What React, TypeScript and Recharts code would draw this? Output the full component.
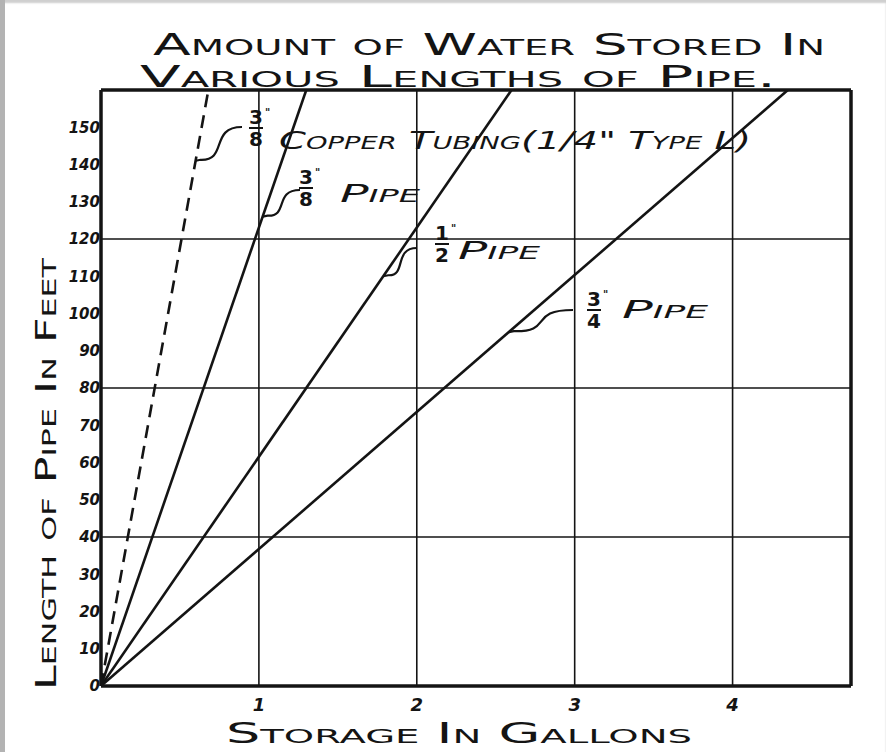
import { LineChart, Line, XAxis, YAxis, ReferenceLine } from 'recharts';

// values (gallons held by 160 ft of each pipe)
const pipeNames = ['3/8" Copper Tubing (1/4" Type L)', '3/8" Pipe', '1/2" Pipe', '3/4" Pipe'];
const gallonsAt160 = [0.68, 1.3, 2.6, 4.35];
const pipeDashed = [true, false, false, false];
const lengthTicks = [0, 10, 20, 30, 40, 50, 60, 70, 80, 90, 100, 110, 120, 130, 140, 150];
const gallonTicks = [1, 2, 3, 4];
const gridLengths = [40, 80, 120];
const maxLength = 160;
const maxGallons = 4.75;

// layout
const W = 886;
const H = 752;
const M = { top: 90, right: 35, bottom: 36, left: 61 };
const Y_W = 40;
const X_H = 30;
const plotL = M.left + Y_W;
const plotR = W - M.right;
const plotT = M.top;
const plotB = H - M.bottom - X_H;
const px = (g: number) => plotL + (g / maxGallons) * (plotR - plotL);
const py = (f: number) => plotB - (f / maxLength) * (plotB - plotT);

const ink = '#141414';
const hand = "'DejaVu Sans', sans-serif";

const series = gallonsAt160.map((g) => [
  { gallons: 0, feet: 0 },
  { gallons: g, feet: maxLength },
]);

// where each label sits and where its leader touches the line (feet on the line)
const labelSpots = [
  { touch: 141, fx: 256, fy: 110, tx: 279, ty: 149, tw: 472, ex: 242, ey: 127, text: 'Copper Tubing(1/4" Type L)' },
  { touch: 126, fx: 306, fy: 170, tx: 340, ty: 202, tw: 80, ex: 300, ey: 190, text: 'Pipe' },
  { touch: 110, fx: 442, fy: 226, tx: 458, ty: 259, tw: 82, ex: 417, ey: 248, text: 'Pipe' },
  { touch: 95, fx: 594, fy: 292, tx: 622, ty: 318, tw: 86, ex: 573, ey: 310, text: 'Pipe' },
];

const Fraction = ({ x, y, num, den }: { x: number; y: number; num: string; den: string }) => (
  <g fill={ink} fontFamily={hand} fontWeight={700} fontSize={20}>
    <text x={x} y={y + 14} textAnchor="middle">{num}</text>
    <text x={x + 9} y={y + 6} fontSize={10}>"</text>
    <line x1={x - 7} x2={x + 7} y1={y + 18} y2={y + 18} stroke={ink} strokeWidth={2} />
    <text x={x} y={y + 36} textAnchor="middle">{den}</text>
  </g>
);

const Overlay = () => (
  <svg width={W} height={H} style={{ position: 'absolute', left: 0, top: 0, pointerEvents: 'none' }}>
    <g fill={ink} fontFamily={hand} style={{ fontVariant: 'small-caps' }}>
      <text x={153} y={55} fontSize={30} textLength={672} lengthAdjust="spacingAndGlyphs">
        Amount of Water Stored In
      </text>
      <text x={140} y={87} fontSize={30} textLength={636} lengthAdjust="spacingAndGlyphs">
        Various Lengths of Pipe.
      </text>
      <text x={226} y={743} fontSize={28} textLength={466} lengthAdjust="spacingAndGlyphs">
        Storage In Gallons
      </text>
      <text
        transform="translate(56,690) rotate(-90)"
        x={0}
        y={0}
        fontSize={28}
        textLength={432}
        lengthAdjust="spacingAndGlyphs"
      >
        Length of Pipe In Feet
      </text>
    </g>
    {labelSpots.map((s, i) => {
      const sx = px((gallonsAt160[i] * s.touch) / maxLength);
      const sy = py(s.touch);
      const [num, den] = pipeNames[i].split('"')[0].split('/');
      const d = `M ${sx} ${sy} l 5 -1 C ${sx + (s.ex - sx) * 0.7} ${sy}, ${sx + (s.ex - sx) * 0.3} ${s.ey}, ${s.ex} ${s.ey}`;
      return (
        <g key={pipeNames[i]}>
          <path d={d} fill="none" stroke={ink} strokeWidth={2.2} />
          <Fraction x={s.fx} y={s.fy} num={num} den={den} />
          <text
            x={s.tx}
            y={s.ty}
            fill={ink}
            fontFamily={hand}
            fontSize={24}
            fontStyle="italic"
            textLength={s.tw}
            lengthAdjust="spacingAndGlyphs"
            style={{ fontVariant: 'small-caps' }}
          >
            {s.text}
          </text>
        </g>
      );
    })}
  </svg>
);

export default function App() {
  return (
    <div
      style={{
        position: 'absolute',
        left: 0,
        top: 0,
        width: W,
        height: H,
        background: '#fff',
        boxShadow: 'inset 5px 0 0 #b3b3b3, inset 0 3px 2px #cfcfcf',
      }}
    >
      <LineChart width={W} height={H} margin={M}>
        <XAxis
          type="number"
          dataKey="gallons"
          domain={[0, maxGallons]}
          ticks={gallonTicks}
          allowDataOverflow
          height={X_H}
          tickLine={false}
          tickSize={0}
          tickMargin={12}
          axisLine={{ stroke: ink, strokeWidth: 3.5 }}
          tick={{ fill: ink, fontSize: 18, fontStyle: 'italic', fontWeight: 700, fontFamily: hand }}
        />
        <YAxis
          type="number"
          dataKey="feet"
          domain={[0, maxLength]}
          ticks={lengthTicks}
          allowDataOverflow
          width={Y_W}
          tickLine={false}
          tickSize={0}
          tickMargin={1}
          interval={0}
          axisLine={{ stroke: ink, strokeWidth: 3.5 }}
          tick={{ fill: ink, fontSize: 15, fontStyle: 'italic', fontWeight: 700, fontFamily: hand }}
        />
        {gallonTicks.map((g) => (
          <ReferenceLine key={'x' + g} x={g} stroke={ink} strokeWidth={1.6} />
        ))}
        {gridLengths.map((f) => (
          <ReferenceLine key={'y' + f} y={f} stroke={ink} strokeWidth={1.6} />
        ))}
        <ReferenceLine y={maxLength} stroke={ink} strokeWidth={3.5} />
        <ReferenceLine x={maxGallons} stroke={ink} strokeWidth={3.5} />
        {series.map((d, i) => (
          <Line
            key={pipeNames[i]}
            name={pipeNames[i]}
            data={d}
            dataKey="feet"
            type="linear"
            stroke={ink}
            strokeWidth={2.6}
            strokeDasharray={pipeDashed[i] ? '13 8' : undefined}
            dot={false}
            activeDot={false}
            isAnimationActive={false}
          />
        ))}
      </LineChart>
      <Overlay />
    </div>
  );
}
